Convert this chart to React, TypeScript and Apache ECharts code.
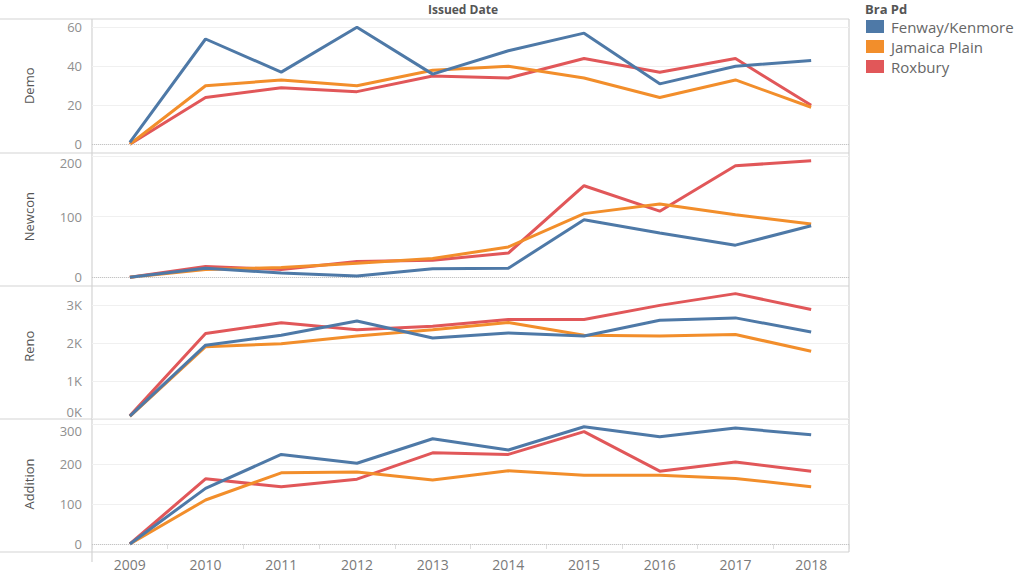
import React, { useEffect, useRef } from 'react';
import * as echarts from 'echarts';

// Issued permits per year, split by work type and BRA planning district
const years = ['2009', '2010', '2011', '2012', '2013', '2014', '2015', '2016', '2017', '2018'];
const districts = ['Fenway/Kenmore', 'Jamaica Plain', 'Roxbury'];
const colors = ['#4e79a7', '#f28e2b', '#e15759'];

const demoFenway = [1, 54, 37, 60, 36, 48, 57, 31, 40, 43];
const demoJamaica = [0, 30, 33, 30, 38, 40, 34, 24, 33, 19];
const demoRoxbury = [0, 24, 29, 27, 35, 34, 44, 37, 44, 20];

const newconFenway = [0, 15, 7, 2, 14, 15, 95, 73, 53, 85];
const newconJamaica = [0, 13, 16, 23, 31, 50, 105, 121, 103, 88];
const newconRoxbury = [0, 18, 13, 26, 28, 40, 151, 109, 184, 192];

const renoFenway = [70, 1940, 2200, 2580, 2130, 2260, 2180, 2600, 2660, 2290];
const renoJamaica = [60, 1900, 1980, 2180, 2350, 2540, 2200, 2180, 2220, 1780];
const renoRoxbury = [80, 2250, 2530, 2350, 2440, 2615, 2620, 2990, 3300, 2880];

const additionFenway = [0, 139, 224, 202, 263, 235, 293, 268, 290, 273];
const additionJamaica = [0, 110, 178, 180, 160, 183, 172, 172, 164, 143];
const additionRoxbury = [0, 163, 143, 162, 228, 224, 281, 182, 205, 182];

const panelNames = ['Demo', 'Newcon', 'Reno', 'Addition'];
const panelMax = [60, 200, 3000, 300];
const panelInterval = [20, 100, 1000, 100];
const panelData = [
  [demoFenway, demoJamaica, demoRoxbury],
  [newconFenway, newconJamaica, newconRoxbury],
  [renoFenway, renoJamaica, renoRoxbury],
  [additionFenway, additionJamaica, additionRoxbury],
];

const FONT = '"Open Sans", "Noto Sans", sans-serif';
const BORDER = '#d3d3d3';

// grid rectangles (0 line to top tick line) inside each Tableau pane
const gridTops = [27.3, 156, 305, 424];
const gridBottoms = [144.3, 277.3, 418.7, 544];
const paneLines = [19, 153, 286, 419, 552];

const App: React.FC = () => {
  const chartRef = useRef<HTMLDivElement>(null);

  useEffect(() => {
    document.body.style.margin = '0';
    if (!chartRef.current) return;
    const chart = echarts.init(chartRef.current, undefined, { renderer: 'svg' });

    const grid = gridTops.map((top, i) => ({
      left: 92,
      right: 175,
      top,
      height: gridBottoms[i] - top,
    }));

    const xAxis = panelNames.map((_, i) => {
      const last = i === panelNames.length - 1;
      return {
        type: 'category',
        gridIndex: i,
        data: years,
        boundaryGap: true,
        offset: last ? 8 : 0,
        axisLine: { show: false },
        axisTick: {
          show: last,
          length: 5,
          lineStyle: { color: '#dddddd' },
        },
        axisLabel: {
          show: last,
          color: '#7a7a7a',
          fontSize: 14,
          fontFamily: FONT,
          margin: 5,
        },
        splitLine: { show: false },
      };
    });

    const yAxis = panelNames.map((name, i) => ({
      type: 'value',
      gridIndex: i,
      min: 0,
      max: panelMax[i],
      interval: panelInterval[i],
      name,
      nameLocation: 'middle',
      nameRotate: 90,
      nameGap: 57,
      nameTextStyle: {
        color: '#555555',
        fontSize: 13,
        fontFamily: FONT,
        align: i === 2 ? 'left' : 'center',
      },
      axisLine: { show: false },
      axisTick: { show: false },
      axisLabel: {
        color: '#8f8f8f',
        fontSize: 13,
        fontFamily: FONT,
        margin: 10,
        formatter: i === 2 ? (v: number) => `${v / 1000}K` : undefined,
        verticalAlignMinLabel: i === 2 ? 'bottom' : undefined,
        verticalAlignMaxLabel: i === 1 || i === 3 ? 'top' : undefined,
      },
      splitLine: { lineStyle: { color: '#f0f0f0', width: 1 } },
    }));

    const series: any[] = [];
    panelData.forEach((group, p) => {
      group.forEach((values, d) => {
        series.push({
          type: 'line',
          name: districts[d],
          xAxisIndex: p,
          yAxisIndex: p,
          data: values,
          symbol: 'none',
          clip: false,
          lineStyle: { width: 3, color: colors[d] },
          itemStyle: { color: colors[d] },
          z: 3 - d + 2,
          markLine:
            d === 0 && p !== 2
              ? {
                  silent: true,
                  symbol: 'none',
                  label: { show: false },
                  lineStyle: { type: 'dotted', color: '#c4c4c4', width: 1 },
                  data: [{ yAxis: 0 }],
                }
              : undefined,
        });
      });
    });

    const graphic: any[] = [
      ...paneLines.map((y) => ({
        type: 'line',
        silent: true,
        shape: { x1: 0, y1: y, x2: 849, y2: y },
        style: { stroke: BORDER, lineWidth: 1.2 },
      })),
      {
        type: 'line',
        silent: true,
        shape: { x1: 92, y1: 19, x2: 92, y2: 562 },
        style: { stroke: BORDER, lineWidth: 1.2 },
      },
      {
        type: 'line',
        silent: true,
        shape: { x1: 849, y1: 19, x2: 849, y2: 552 },
        style: { stroke: BORDER, lineWidth: 1.2 },
      },
    ];

    chart.setOption({
      animation: false,
      backgroundColor: '#ffffff',
      title: [
        {
          text: 'Issued Date',
          left: 463,
          top: 3,
          padding: 0,
          textAlign: 'center',
          textStyle: { color: '#555555', fontSize: 12, fontWeight: 'bold', fontFamily: FONT },
        },
        {
          text: 'Bra Pd',
          left: 865,
          top: 2,
          padding: 0,
          textStyle: { color: '#555555', fontSize: 13, fontWeight: 'bold', fontFamily: FONT },
        },
      ],
      legend: {
        data: districts,
        orient: 'vertical',
        left: 866,
        top: 19,
        padding: 0,
        icon: 'rect',
        itemWidth: 18,
        itemHeight: 13,
        itemGap: 5,
        textStyle: {
          color: '#666666',
          fontSize: 15,
          lineHeight: 13,
          fontFamily: FONT,
          padding: [0, 0, 0, 2],
        },
        selectedMode: false,
      },
      grid,
      xAxis,
      yAxis,
      series,
      graphic,
    });

    return () => {
      chart.dispose();
    };
  }, []);

  return <div ref={chartRef} style={{ width: 1024, height: 573 }} />;
};

export default App;
